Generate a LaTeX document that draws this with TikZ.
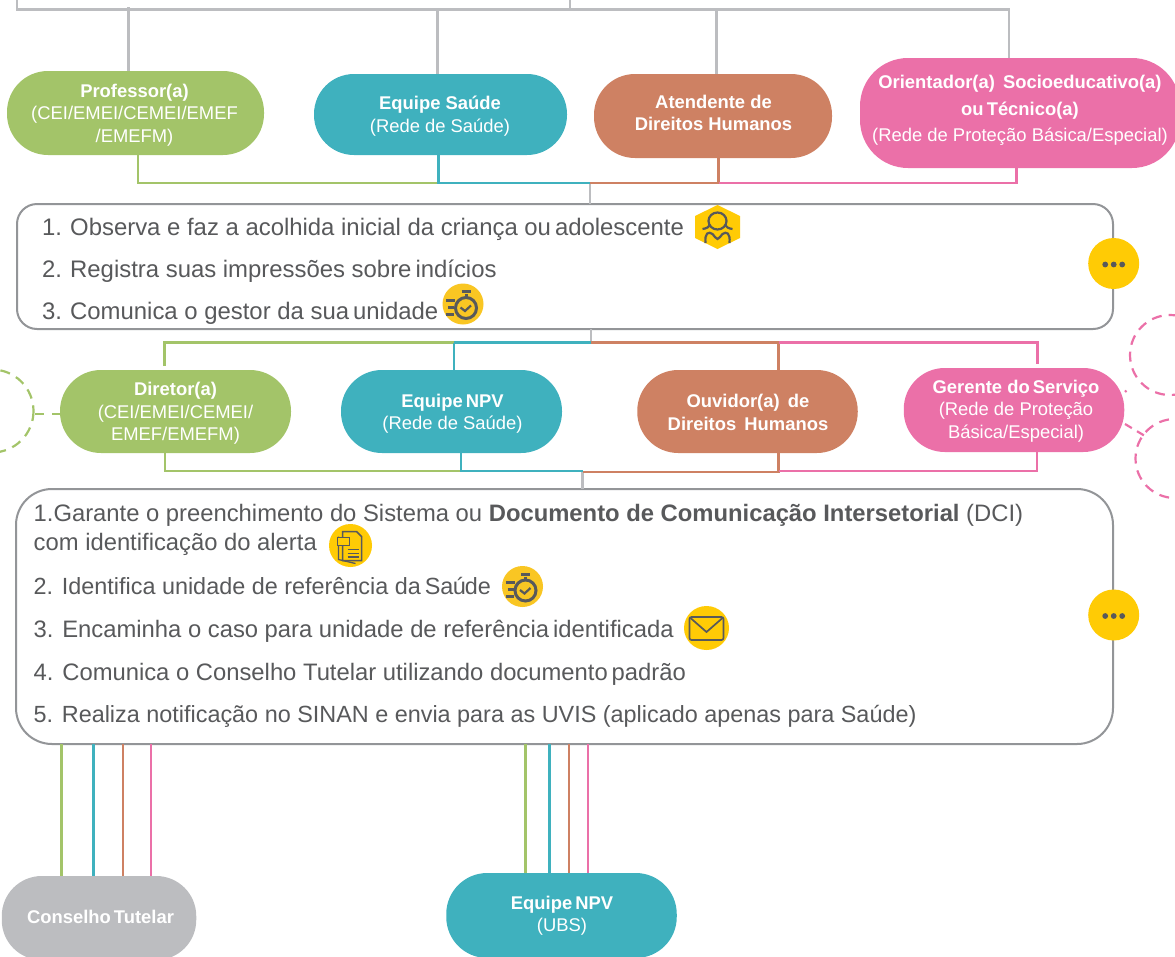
\documentclass[tikz,border=0pt]{standalone}
\usepackage{fontspec}
\setmainfont{Liberation Sans}
\definecolor{cgreen}{HTML}{A3C469}
\definecolor{cteal}{HTML}{3FB1BE}
\definecolor{corange}{HTML}{CE8163}
\definecolor{cpink}{HTML}{EB70A8}
\definecolor{cgray}{HTML}{BCBDC0}
\definecolor{cborder}{HTML}{939598}
\definecolor{ctext}{HTML}{58595B}
\definecolor{cyellow}{HTML}{FFCB05}
\definecolor{cyellowb}{HTML}{F9C623}
\tikzset{
  pill/.style={inner sep=0pt,outer sep=0pt,rectangle,rounded corners=#1},
  pilltext/.style={inner sep=0pt,text=white,align=center,font=\fontsize{18.4}{22.5}\selectfont},
  stepline/.style={anchor=base west,inner sep=0pt,text=ctext,font=\fontsize{23.9}{28}\selectfont},
  steplineb/.style={anchor=base west,inner sep=0pt,text=ctext,font=\fontsize{23.8}{28}\selectfont},
  steplinec/.style={anchor=base west,inner sep=0pt,text=ctext,font=\fontsize{23.4}{28}\selectfont},
  conn/.style={line width=2.8pt,line join=miter},
  frame/.style={draw=cborder,line width=2pt,fill=white,rectangle,inner sep=0pt,outer sep=0pt},
  dashc/.style={line width=2.2pt,dash pattern=on 10pt off 7pt},
  dotsicon/.pic={
    \fill[cyellow] (0,0) ellipse (25.5 and 25.5);
    \foreach \q in {-8.5,0,8.5} \fill[ctext] (\q,1) circle (2.9);
  },
  timeicon/.pic={
    \fill[cyellowb] (0,0) circle (20.5);
    \draw[ctext,line width=3pt] (3,4) circle (10.5);
    \draw[ctext,line width=3pt] (3,-10) -- (3,-6);
    \draw[ctext,line width=3pt] (-1.5,-12.5) -- (7.5,-12.5);
    \draw[ctext,line width=2.2pt] (-2.5,3.5) -- (2,7) -- (8,1.5);
    \draw[ctext,line width=3pt] (-17,-4) -- (-8,-4) (-15,3) -- (-9,3) (-17,10) -- (-9,10);
  },
  personicon/.pic={
    \fill[cyellow] (0,-22) -- (22.5,-11) -- (22.5,11) -- (0,22) -- (-22.5,11) -- (-22.5,-11) -- cycle;
    \draw[ctext,line width=2.2pt] (0,-6) ellipse (9 and 8.5);
    \draw[ctext,line width=2.2pt] (-8,-3) .. controls (-8,0) and (-11,1.5) .. (-15,2) (8,-3) .. controls (8,0) and (11,1.5) .. (15,2);
    \draw[ctext,line width=2.2pt] (-12,16) .. controls (-13,6) and (-9,4) .. (-5,7) .. controls (-3,9) and (-1.5,12) .. (0,12) .. controls (1.5,12) and (3,9) .. (5,7) .. controls (9,4) and (13,6) .. (12,16);
  },
  pdficon/.pic={
    \fill[cyellow] (0,0) ellipse (21.5 and 21.5);
    \draw[ctext,line width=1.3pt] (-12,-9) -- (-12,14) -- (5,18);
    \draw[ctext,line width=1.5pt,fill=cyellow] (-8,-14) -- (6,-14) -- (11,-9) -- (11,15) -- (-8,15) -- cycle;
    \draw[ctext,line width=1.2pt,fill=cyellow] (-13,-8) rectangle (-1,0);
    \draw[ctext,line width=1.4pt] (-3,4) -- (8,4) (-3,8) -- (8,8) (-3,11.5) -- (8,11.5);
  },
  mailicon/.pic={
    \fill[cyellow] (0,0) ellipse (22.5 and 22);
    \draw[ctext,line width=1.7pt,rounded corners=2pt] (-17,-11) rectangle (17,12);
    \draw[ctext,line width=1.7pt] (-16,-10) -- (0,4) -- (16,-10);
  },
}
\begin{document}
\begin{tikzpicture}[x=1pt,y=-1pt]
\path[use as bounding box,clip] (0,0) rectangle (1175,956);

% ---- coordinates of the junctions
\coordinate (topL) at (17,9.5);
\coordinate (topR) at (1009,9.5);
\coordinate (topA) at (17,0);
\coordinate (topB) at (570,0);
\coordinate (topC) at (570,9.5);
\coordinate (d1) at (128.5,9.5);
\coordinate (d2) at (437.5,9.5);
\coordinate (d3) at (716.6,9.5);

\coordinate (a1) at (138,183);
\coordinate (a2) at (438.5,183);
\coordinate (a3) at (590,183);
\coordinate (a4) at (718.5,183);
\coordinate (a5) at (1016.5,183);

\coordinate (b1) at (164.5,342.5);
\coordinate (b1e) at (164.5,366);
\coordinate (b2) at (454,342.5);
\coordinate (b3) at (591,342.5);
\coordinate (b4) at (778.5,342.5);
\coordinate (b5) at (1037.5,342.5);
\coordinate (b5e) at (1037.5,364);

\coordinate (c1) at (165,471);
\coordinate (c2) at (461,471);
\coordinate (c3) at (582.5,471);
\coordinate (c4) at (778.5,472);
\coordinate (c5) at (1037,472);
\coordinate (c3b) at (582.5,472);

% ---- pills
\node[pill=41,fill=cgreen,minimum width=257,minimum height=84] (prof) at (135.5,113) {};
\node[pill=40,fill=cteal,minimum width=253,minimum height=81] (saude) at (440.5,114.5) {};
\node[pill=41,fill=corange,minimum width=238,minimum height=84] (atend) at (713,116) {};
\node[pill=48,fill=cpink,minimum width=320,minimum height=110] (orient) at (1020,113) {};

\node[pill=41,fill=cgreen,minimum width=231,minimum height=83] (dir) at (175.5,411.5) {};
\node[pill=41,fill=cteal,minimum width=221,minimum height=83] (npv) at (451.5,411.5) {};
\node[pill=41,fill=corange,minimum width=220.5,minimum height=83] (ouv) at (747.5,411.5) {};
\node[pill=41,fill=cpink,minimum width=220.5,minimum height=84] (ger) at (1014,410) {};

\node[pill=40,fill=cgray,minimum width=194.5,minimum height=84] (cons) at (99,918) {};
\node[pill=41,fill=cteal,minimum width=230.5,minimum height=85] (ubs) at (561.5,915.5) {};

% ---- frames
\node[frame,rounded corners=20,minimum width=1096,minimum height=125] (box1) at (565,266.5) {};
\node[frame,rounded corners=36,minimum width=1097,minimum height=255] (box2) at (564.5,616.5) {};

% ---- gray connectors
\draw[conn,cgray] (topA) -- (topL) -- (topR) -- (topR |- orient.north);
\draw[conn,cgray] (topB) -- (topC);
\draw[conn,cgray] (128.5,7) -- (d1 |- prof.north);
\draw[conn,cgray] (d2) -- (d2 |- saude.north);
\draw[conn,cgray] (d3) -- (d3 |- atend.north);
\draw[conn,cgray] (a3) -- (a3 |- box1.north);
\draw[conn,cgray] (b3 |- box1.south) -- (b3);
\draw[conn,cgray] (c3b) -- (c3b |- box2.north);

% ---- first coloured group
\draw[conn,cgreen] (a1 |- prof.south) -- (a1) -- (a2);
\draw[conn,cteal] (a2 |- saude.south) -- (a2) -- (a3);
\draw[conn,corange] (a3) -- (a4) -- (a4 |- atend.south);
\draw[conn,cpink] (a4) -- (a5) -- (a5 |- orient.south);

% ---- second coloured group
\draw[conn,cgreen] (b1e) -- (b1) -- (b2);
\draw[conn,cteal] (b2) -- (b3);
\draw[conn,cteal] (b2) -- (b2 |- npv.north);
\draw[conn,corange] (b3) -- (b4) -- (b4 |- ouv.north);
\draw[conn,cpink] (b4) -- (b5) -- (b5e);

% ---- third coloured group
\draw[conn,cgreen] (c1 |- dir.south) -- (c1) -- (c2);
\draw[conn,cteal] (c2 |- npv.south) -- (c2) -- (c3);
\draw[conn,corange] (c3b) -- (c4) -- (c4 |- ouv.south);
\draw[conn,cpink] (c4) ++(0,-1) -- (1037,471) -- (c5 |- ger.south);

% ---- bottom connectors
\foreach \px/\col in {61.6/cgreen,93.3/cteal,122.8/corange,151/cpink}
  \draw[line width=2.6pt,\col] (\px,744) -- (\px,876);
\foreach \px/\col in {525.4/cgreen,549.5/cteal,569/corange,588/cpink}
  \draw[line width=2.6pt,\col] (\px,744) -- (\px,873);

% ---- dashed circles
\draw[dashc,cgreen] (-8,411) circle (41.5);
\coordinate (dashL) at (35,414);
\draw[dashc,cgreen,dash pattern=on 9pt off 8pt] (dashL) -- (dashL -| dir.west);
\draw[dashc,cpink] (1170,355) circle (40);
\draw[dashc,cpink] (1175,458.5) circle (39.5);
\draw[dashc,cpink,dash pattern=on 2pt off 1pt] (1125,392) -- (1127,390);
\draw[dashc,cpink,dash pattern=on 8pt off 6pt] (1125,424) -- (1145,436);

% ---- pill texts
\node[pilltext] (tprof) at (134.5,115) {\textbf{Professor(a)}\\(CEI/EMEI/CEMEI/EMEF\\/EMEFM)};
\node[pilltext] (tsaude) at (440,116) {\textbf{Equipe Saúde}\\(Rede de Saúde)};
\node[pilltext] (tatend) at (713.5,113) {\textbf{Atendente de}\\\textbf{Direitos Humanos}};
\node[pilltext,font=\fontsize{18.4}{26.5}\selectfont] (torient) at (1020,110.5) {\textbf{Orientador(a)\, Socioeducativo(a)}\\\textbf{ou\,Técnico(a)}\\(Rede de Proteção Básica/Especial)};
\node[pilltext] (tdir) at (175.5,413.5) {\textbf{Diretor(a)}\\(CEI/EMEI/CEMEI/\\EMEF/EMEFM)};
\node[pilltext] (tnpv) at (452.5,413.5) {\textbf{Equipe\,NPV}\\(Rede de Saúde)};
\node[pilltext] (touv) at (748,412.5) {\textbf{Ouvidor(a)\, de}\\\textbf{Direitos\, Humanos}};
\node[pilltext] (tger) at (1016,411) {\textbf{Gerente do\,Serviço}\\(Rede de Proteção\\Básica/Especial)};
\node[pilltext] (tcons) at (100.5,917) {\textbf{Conselho\,Tutelar}};
\node[pilltext] (tubs) at (562,915.5) {\textbf{Equipe\,NPV}\\(UBS)};

% ---- first step list
\node[stepline] (s11) at (42,235) {1.};
\node[stepline] (s11b) at (70,235) {Observa e faz a acolhida inicial da criança ou\,adolescente};
\node[stepline] (s12) at (42,277) {2.};
\node[stepline] (s12b) at (70,277) {Registra suas impressões sobre\,indícios};
\node[stepline] (s13) at (42,319) {3.};
\node[stepline] (s13b) at (70,319) {Comunica o gestor da sua\,unidade};

% ---- second step list
\node[steplineb] (s21) at (33.5,521) {1.Garante o preenchimento do Sistema ou \textbf{Documento de Comunicação Intersetorial} (DCI)};
\node[steplineb] (s21b) at (33.5,550) {com identificação do alerta};
\node[steplinec] (s22) at (33.5,594) {2. Identifica unidade de referência da\,Sa\kern-0.5ptú\kern-1ptde};
\node[steplineb] (s23) at (33.5,637) {3. Encaminha o caso para unidade de referência\,identificada};
\node[steplineb] (s24) at (33.5,680) {4. Comunica o Conselho Tutelar utilizando documento\,padrão};
\node[steplinec] (s25) at (33.5,722.5) {5. Realiza notificação no SINAN e envia para as UVIS (aplicado apenas para Saúde)};

% ---- icons
\pic at (717.5,227) {personicon};
\pic at (463,304) {timeicon};
\pic at (1113.7,263.5) {dotsicon};
\pic at (350.5,545.5) {pdficon};
\pic at (522.5,586.5) {timeicon};
\pic at (706.5,628) {mailicon};
\pic at (1113.7,615) {dotsicon};
\end{tikzpicture}
\end{document}
